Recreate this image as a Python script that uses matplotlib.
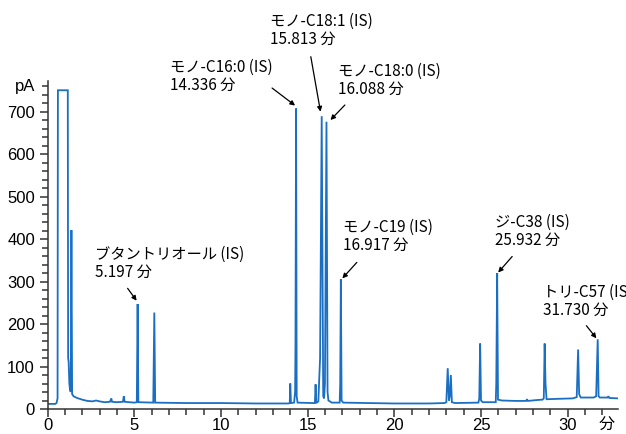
import matplotlib
matplotlib.use("Agg")
import matplotlib.pyplot as plt
from matplotlib.ticker import MultipleLocator
from matplotlib.transforms import offset_copy

# ---------------- data ----------------
time_min = [0.0, 0.45, 0.52, 0.58, 0.60, 1.17, 1.19, 1.22, 1.26, 1.30, 1.34,
            1.38, 1.42, 1.50, 1.70, 2.00, 2.30, 2.60, 2.80, 3.00, 3.30, 3.60,
            3.68, 3.72, 4.00, 4.35, 4.40, 4.45, 5.00, 5.15, 5.197, 5.24, 6.10,
            6.16, 6.21, 8.0, 10.0, 12.0, 13.90, 13.97, 14.00, 14.04, 14.22,
            14.28, 14.30, 14.336, 14.37, 14.42, 15.30, 15.42, 15.46, 15.50,
            15.62, 15.66, 15.72, 15.813, 15.90, 15.95, 16.00, 16.088, 16.15,
            16.20, 16.40, 16.85, 16.88, 16.917, 16.96, 17.05, 18.5, 20.0, 22.0,
            22.90, 23.00, 23.08, 23.15, 23.20, 23.26, 23.32, 23.50, 24.85,
            24.90, 24.95, 25.00, 25.10, 25.85, 25.88, 25.932, 25.98, 26.20,
            27.00, 27.60, 27.65, 27.70, 28.20, 28.55, 28.62, 28.67, 28.72,
            28.78, 29.50, 30.30, 30.52, 30.60, 30.66, 30.75, 31.50, 31.64,
            31.73, 31.78, 31.85, 32.30, 32.35, 32.40, 32.90]
signal_pA = [12, 12, 14, 25, 750, 750, 120, 110, 60, 45, 40,
             421, 35, 30, 26, 22, 19, 18, 20, 18, 16, 17,
             25, 17, 16, 17, 30, 17, 15, 16, 247, 16, 15,
             227, 15, 14, 14, 13, 13, 14, 60, 14, 15,
             40, 150, 707, 30, 15, 14, 14, 58, 14,
             18, 60, 120, 689, 30, 25, 60, 676, 40,
             20, 15, 15, 60, 305, 20, 15, 14, 13, 13,
             14, 16, 96, 20, 30, 80, 16, 14, 15,
             25, 154, 20, 16, 16, 60, 320, 22, 20,
             19, 19, 23, 19, 21, 22, 25, 154, 60,
             23, 24, 25, 28, 140, 35, 27, 27, 30,
             164, 30, 27, 27, 30, 26, 25]

peak_times = [5.197, 14.336, 15.813, 16.088, 16.917, 25.932, 31.730]
peak_heights = [247, 707, 689, 676, 305, 320, 164]
peak_names = ["ブタントリオール (IS)", "モノ-C16:0 (IS)", "モノ-C18:1 (IS)",
              "モノ-C18:0 (IS)", "モノ-C19 (IS)", "ジ-C38 (IS)", "トリ-C57 (IS)"]

x_major = [0, 5, 10, 15, 20, 25, 30]
y_major = [0, 100, 200, 300, 400, 500, 600, 700]

# ---------------- layout (pixels, y up) ----------------
# text offset (left, baseline of last line) from peak apex
text_off = [(-43, 27), (-126, 18.5), (-52, 72), (12, 27.5), (2, 29.5), (-2.5, 28), (-55, 24.3)]
# arrow head offset from apex and tail offset from head
head_off = [(-1, 3.3), (-1, 3), (-1.2, 4.5), (4, 1.7), (1.5, 1), (1, 0.5), (-1.3, 1)]
tail_off = [(-9, 12.4), (-23, 17.5), (-9.7, 55), (14.4, 15), (14.5, 16), (14, 16), (-10, 12.6)]

plt.rcParams["font.family"] = ["Noto Sans CJK JP", "DejaVu Sans"]
LAT = "Liberation Sans"

fig = plt.figure(figsize=(6.26, 4.34), dpi=100)
ax = fig.add_axes([47.5 / 626, 25 / 434, 570.5 / 626, 328 / 434])

ax.plot(time_min, signal_pA, color="#1b6fc2", lw=1.3, solid_joinstyle="miter")

ax.set_xlim(0, 32.9)
ax.set_ylim(0, 771.8)
ax.set_xticks(x_major)
ax.set_yticks(y_major)
ax.xaxis.set_minor_locator(MultipleLocator(1))
ax.yaxis.set_minor_locator(MultipleLocator(20))
for s in ["top", "right"]:
    ax.spines[s].set_visible(False)
for s in ["left", "bottom"]:
    ax.spines[s].set_color("#333333")
    ax.spines[s].set_linewidth(1.1)
ax.tick_params(which="major", length=6, width=1.1, color="#333333",
               labelsize=12, labelfontfamily=LAT)
ax.tick_params(axis="y", which="major", pad=3)
ax.tick_params(axis="x", which="major", pad=0.6)
ax.tick_params(which="minor", length=4.5, width=1.1, color="#333333")

ax.annotate("pA", xy=(0, 760), xycoords=ax.get_yaxis_transform(),
            xytext=(-12.5, 0), textcoords="offset pixels",
            ha="right", va="center", fontsize=12, family=LAT)
ax.annotate("分", xy=(0.98, 0), xycoords="axes fraction",
            xytext=(0, -21), textcoords="offset pixels",
            ha="center", va="baseline", fontsize=11.5)

for t, h, name, to, ho, tl in zip(peak_times, peak_heights, peak_names,
                                  text_off, head_off, tail_off):
    ax.annotate(f"{name}\n{t:.3f} 分", xy=(t, h), xytext=to,
                textcoords="offset pixels", ha="left", va="baseline",
                fontsize=11, linespacing=1.1, multialignment="left")
    tr = offset_copy(ax.transData, fig=fig, x=ho[0], y=ho[1], units="dots")
    ax.annotate("", xy=(t, h), xycoords=tr, xytext=tl,
                textcoords="offset pixels",
                arrowprops=dict(arrowstyle="-|>", color="black", lw=0.9,
                                mutation_scale=7, shrinkA=0, shrinkB=0))

fig.savefig("out.png", dpi=100)
